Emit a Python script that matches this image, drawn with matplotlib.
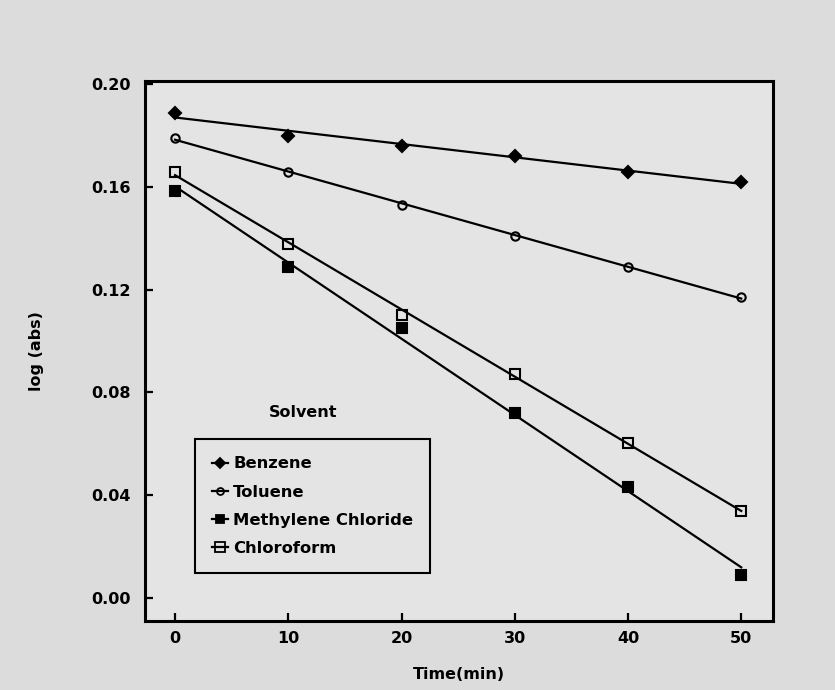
import matplotlib.pyplot as plt
import numpy as np

# time points (min) and log(abs) readings per solvent
time_min = [0, 10, 20, 30, 40, 50]
benzene = [0.189, 0.180, 0.176, 0.172, 0.166, 0.162]
toluene = [0.179, 0.166, 0.153, 0.141, 0.129, 0.117]
methylene_chloride = [0.1585, 0.129, 0.105, 0.072, 0.043, 0.009]
chloroform = [0.166, 0.138, 0.110, 0.087, 0.0605, 0.034]

series = [
    ("Benzene", benzene, "D", "black", 6.5),
    ("Toluene", toluene, "o", "none", 6.0),
    ("Methylene Chloride", methylene_chloride, "s", "black", 7.0),
    ("Chloroform", chloroform, "s", "none", 7.5),
]

bg = "#dcdcdc"
plt.rcParams["font.family"] = ["DejaVu Sans"]
plt.rcParams["font.weight"] = "bold"

fig = plt.figure(figsize=(8.35, 6.9), dpi=100, facecolor=bg)
ax = fig.add_axes([0.1737, 0.100, 0.752, 0.7826], facecolor="#e4e4e4")

x = np.array(time_min, dtype=float)
xfit = np.array([0.0, 50.0])
for name, vals, marker, fc, ms in series:
    slope, icpt = np.polyfit(x, vals, 1)
    ax.plot(xfit, slope * xfit + icpt, color="black", lw=1.6, zorder=2)
    ax.plot(x, vals, linestyle="none", marker=marker, markersize=ms,
            markerfacecolor=fc, markeredgecolor="black", markeredgewidth=1.5,
            zorder=3)
    # legend proxy: short line with marker
    ax.plot([], [], color="black", lw=1.6, marker=marker, markersize=ms - 1,
            markerfacecolor=fc, markeredgecolor="black", markeredgewidth=1.3,
            label=name)

ax.set_xlim(-2.65, 52.8)
ax.set_ylim(-0.009, 0.2013)
ax.set_xticks(time_min)
ax.set_yticks([0.00, 0.04, 0.08, 0.12, 0.16, 0.20])
ax.set_yticklabels(["0.00", "0.04", "0.08", "0.12", "0.16", "0.20"])

for s in ax.spines.values():
    s.set_linewidth(2.2)
ax.tick_params(axis="both", direction="in", length=6, width=1.6,
               labelsize=11.5)
ax.tick_params(axis="y", pad=10)
ax.tick_params(axis="x", pad=7)

ax.set_xlabel("Time(min)", fontsize=11.5, fontweight="bold", labelpad=15)
ax.set_ylabel("log (abs)", fontsize=11.5, fontweight="bold", labelpad=34)

ax.text(0.252, 0.387, "Solvent", transform=ax.transAxes, ha="center",
        va="center", fontsize=11.5, fontweight="bold")

leg = ax.legend(loc="lower left", bbox_to_anchor=(0.079, 0.089),
                fontsize=11.8, frameon=True, fancybox=False, handlelength=1.0,
                handletextpad=0.3, borderpad=1.05, labelspacing=0.8,
                borderaxespad=0.0)
leg.get_frame().set_edgecolor("black")
leg.get_frame().set_linewidth(1.5)
leg.get_frame().set_facecolor("#e4e4e4")
leg.get_frame().set_alpha(1)

fig.savefig("out.png", dpi=100, facecolor=bg)
